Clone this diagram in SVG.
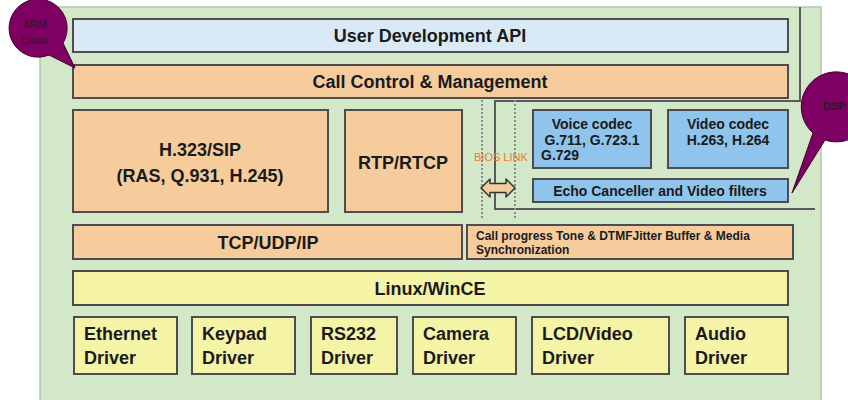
<svg xmlns="http://www.w3.org/2000/svg" width="848" height="400" viewBox="0 0 848 400">
  <defs>
    <style>
      .box { stroke: #4d4d4d; stroke-width: 2; }
      .api { fill: #d9eaf6; }
      .ctl { fill: #f6cc9c; }
      .codec { fill: #8fc5ec; }
      .os { fill: #f4f3a6; }
      .t { font-family: "Liberation Sans", Arial, sans-serif; font-weight: bold; fill: #1a1a1a; }
      .big { font-size: 18px; }
      .mid { font-size: 14px; }
      .small { font-size: 12px; }
      .bubble { fill: #7d0062; stroke: #3d0030; stroke-width: 1; }
      .blabel { font-family: "Liberation Sans", Arial, sans-serif; fill: #2a1a24; }
      .dots { stroke: #8a8a8a; stroke-width: 2; stroke-dasharray: 2 2; fill: none; }
    </style>
  </defs>

  <rect x="0" y="0" width="848" height="400" fill="#ffffff"/>

  <!-- platform panel -->
  <g id="platform">
    <rect x="40" y="7" width="781" height="400" fill="#d3e8c9" stroke="#b5c4ad" stroke-width="1.5"/>
    <!-- DSP domain boundary -->
    <polyline points="800,7 800,101 495,101 495,209 815,209" fill="none" stroke="#5a5a5a" stroke-width="2"/>
  </g>

  <g id="user-api">
    <rect class="box api" x="73" y="19" width="715" height="33"/>
    <text class="t big" x="430" y="42" text-anchor="middle">User Development API</text>
  </g>

  <g id="call-control">
    <rect class="box ctl" x="73" y="65" width="715" height="33"/>
    <text class="t big" x="430" y="88" text-anchor="middle">Call Control &amp; Management</text>
  </g>

  <g id="h323-sip">
    <rect class="box ctl" x="73" y="110" width="255" height="102"/>
    <text class="t big" x="200" y="156" text-anchor="middle">H.323/SIP</text>
    <text class="t big" x="200" y="182" text-anchor="middle">(RAS, Q.931, H.245)</text>
  </g>

  <g id="rtp-rtcp">
    <rect class="box ctl" x="345" y="110" width="117" height="102"/>
    <text class="t big" x="403" y="169" text-anchor="middle">RTP/RTCP</text>
  </g>

  <g id="voice-codec">
    <rect class="box codec" x="533" y="110" width="118" height="58"/>
    <text class="t mid" x="592" y="129" text-anchor="middle">Voice codec</text>
    <text class="t mid" x="592" y="145" text-anchor="middle">G.711, G.723.1</text>
    <text class="t mid" x="541" y="160">G.729</text>
  </g>

  <g id="video-codec">
    <rect class="box codec" x="668" y="110" width="120" height="58"/>
    <text class="t mid" x="728" y="129" text-anchor="middle">Video codec</text>
    <text class="t mid" x="728" y="145" text-anchor="middle">H.263, H.264</text>
  </g>

  <g id="echo-canceller">
    <rect class="box codec" x="533" y="179" width="255" height="23"/>
    <text class="t mid" x="660" y="196" text-anchor="middle">Echo Canceller and Video filters</text>
  </g>

  <g id="tcp-udp-ip">
    <rect class="box ctl" x="73" y="225" width="389" height="34"/>
    <text class="t big" x="268" y="249" text-anchor="middle">TCP/UDP/IP</text>
  </g>

  <g id="call-progress">
    <rect class="box ctl" x="467" y="225" width="326" height="34"/>
    <text class="t small" x="476" y="240">Call progress Tone &amp; DTMFJitter Buffer &amp; Media</text>
    <text class="t small" x="476" y="254">Synchronization</text>
  </g>

  <g id="os">
    <rect class="box os" x="73" y="271" width="715" height="34"/>
    <text class="t big" x="430" y="295" text-anchor="middle">Linux/WinCE</text>
  </g>

  <g id="ethernet-driver">
    <rect class="box os" x="74" y="317" width="103" height="57"/>
    <text class="t big" x="84" y="340">Ethernet</text>
    <text class="t big" x="84" y="364">Driver</text>
  </g>
  <g id="keypad-driver">
    <rect class="box os" x="192" y="317" width="103" height="57"/>
    <text class="t big" x="202" y="340">Keypad</text>
    <text class="t big" x="202" y="364">Driver</text>
  </g>
  <g id="rs232-driver">
    <rect class="box os" x="311" y="317" width="86" height="57"/>
    <text class="t big" x="321" y="340">RS232</text>
    <text class="t big" x="321" y="364">Driver</text>
  </g>
  <g id="camera-driver">
    <rect class="box os" x="413" y="317" width="103" height="57"/>
    <text class="t big" x="423" y="340">Camera</text>
    <text class="t big" x="423" y="364">Driver</text>
  </g>
  <g id="lcd-video-driver">
    <rect class="box os" x="532" y="317" width="137" height="57"/>
    <text class="t big" x="542" y="340">LCD/Video</text>
    <text class="t big" x="542" y="364">Driver</text>
  </g>
  <g id="audio-driver">
    <rect class="box os" x="685" y="317" width="103" height="57"/>
    <text class="t big" x="695" y="340">Audio</text>
    <text class="t big" x="695" y="364">Driver</text>
  </g>

  <!-- connectors: BIOS link between host and DSP -->
  <g id="connectors">
    <line class="dots" x1="482" y1="100" x2="482" y2="220"/>
    <line class="dots" x1="515" y1="100" x2="515" y2="220"/>
    <text x="474" y="161" font-family="Liberation Sans, Arial, sans-serif" font-size="11" fill="#ee7838">BIOS LINK</text>
    <path d="M481,188 L490,179 L490,183.5 L506,183.5 L506,179 L515,188 L506,197 L506,192.5 L490,192.5 L490,197 Z" fill="#f6cc9c" stroke="#333333" stroke-width="1.5" stroke-linejoin="round"/>
  </g>

  <g id="arm-linux-callout">
    <path class="bubble" d="M49,55 A29,29 0 1 1 63,43 L75,68 Z"/>
    <text class="blabel" x="35" y="28" font-size="11" text-anchor="middle">ARM</text>
    <text class="blabel" x="35" y="44" font-size="11" text-anchor="middle">Linux</text>
  </g>

  <g id="dsp-callout">
    <path class="bubble" d="M813,133 A35,35 0 1 1 825,140 L792,193 Z"/>
    <text class="blabel" x="823" y="110" font-size="11" font-weight="bold">DSP</text>
  </g>
</svg>
